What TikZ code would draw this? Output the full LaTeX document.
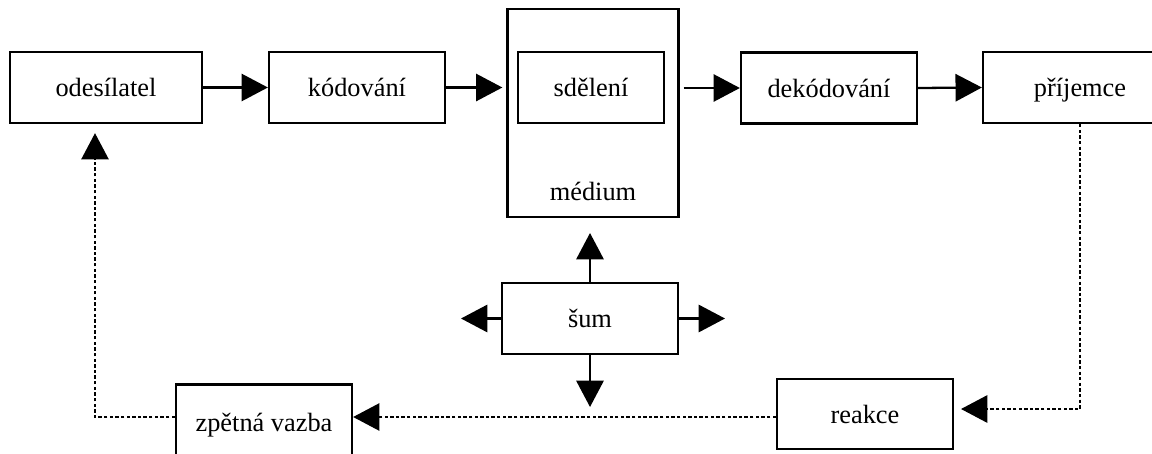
\documentclass[tikz,border=0pt]{standalone}
\usepackage{fontspec}
\setmainfont{Liberation Serif}
\usetikzlibrary{arrows.meta}

\tikzset{
  box/.style={draw, black, line width=1.3pt, minimum width=3.52cm, minimum height=1.42cm,
    inner sep=0pt, text height=12.5pt, text depth=1.7pt, font=\fontsize{15}{18}\selectfont},
  sipka/.style={black, line width=1.3pt, -{Triangle[length=15pt,width=15.5pt]}},
  zpet/.style={sipka, dash pattern=on 1.9pt off 1.3pt}
}

\begin{document}
\begin{tikzpicture}[x=0.02cm, y=-0.02cm]
            \useasboundingbox (0,0) rectangle (1152,453);

            \node[box, minimum width=3.84cm] (odes) at (106,87.5) {odesílatel};
            \node[box] (kod) at (357,87.5) {kódování};
            \node[box, minimum width=3.42cm, minimum height=4.16cm] (med) at (593,113) {};
            \node[box, minimum width=2.92cm] (sdel) at (591,87.5) {sdělení};
            \node[font=\fontsize{15}{18}\selectfont, inner sep=0pt, text height=12.5pt, text depth=1.7pt] (medlab) at (593,191) {médium};
            \node[box] (dekod) at (829,88) {dekódování};
            \node[box, minimum width=3.88cm] (prij) at (1080,87.5) {příjemce};
            \node[box] (sum) at (590,318.5) {šum};
            \node[box, minimum height=1.4cm] (reak) at (865,414) {reakce};
            \node[box, minimum height=1.5cm] (zpv) at (264,422) {zpětná vazba};

            % volne konce sipek od sumu
            \coordinate (sumN) at (590,233);
            \coordinate (sumS) at (590,407);
            \coordinate (sumW) at (461,318.5);
            \coordinate (sumE) at (725,318.5);
            \coordinate (rtip) at (961,409);

            \draw[sipka] (odes.east) -- (kod.west);
            \draw[sipka, shorten >=0.08cm] (kod.east) -- (kod.east -| med.west);
            \draw[sipka, shorten <=0.08cm] (dekod.west -| med.east) -- (dekod.west);
            \draw[sipka] (dekod.east) -- (prij.west);

            \draw[sipka] (sum.north) -- (sumN);
            \draw[sipka] (sum.south) -- (sumS);
            \draw[sipka] (sum.west) -- (sumW);
            \draw[sipka] (sum.east) -- (sumE);

            \draw[zpet] (prij.south) |- (rtip);
            \draw[zpet] (reak.west |- 0,417) -- (zpv.east |- 0,417);
            \draw[zpet, shorten >=0.18cm] (zpv.west |- 0,417) -| ([xshift=-0.22cm]odes.south);
        \end{tikzpicture}
\end{document}
